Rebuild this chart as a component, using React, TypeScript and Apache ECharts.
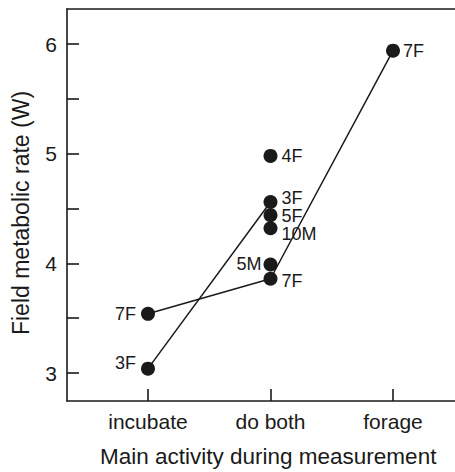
import React, { useEffect, useRef } from "react";
import * as echarts from "echarts";

const categories = ["incubate", "do both", "forage"];
const pointCategory = ["incubate", "incubate", "do both", "do both", "do both", "do both", "do both", "do both", "forage"];
const pointValues = [3.54, 3.04, 4.98, 4.56, 4.44, 4.32, 3.99, 3.86, 5.94];
const pointLabels = ["7F", "3F", "4F", "3F", "5F", "10M", "5M", "7F", "7F"];
const line7FCategories = ["incubate", "do both", "forage"];
const line7FValues = [3.54, 3.86, 5.94];
const line3FCategories = ["incubate", "do both"];
const line3FValues = [3.04, 4.56];
const yTicks = [3, 3.5, 4, 4.5, 5, 5.5, 6];
const yTickLabels = [3, 4, 5, 6];
const xTitle = "Main activity during measurement";
const yTitle = "Field metabolic rate (W)";

const FONT = "'Liberation Sans', Arial, Helvetica, sans-serif";
const INK = "#1a1a1a";

const labelSide: Record<string, { position: string; offset: number[]; distance: number }> = {
  "0": { position: "left", offset: [0, 0], distance: 5 },
  "1": { position: "left", offset: [0, -6], distance: 5 },
  "2": { position: "right", offset: [0, 0], distance: 4 },
  "3": { position: "right", offset: [0, -4], distance: 4 },
  "4": { position: "right", offset: [0, 1], distance: 4 },
  "5": { position: "right", offset: [0, 6], distance: 4 },
  "6": { position: "left", offset: [0, 0], distance: 2 },
  "7": { position: "right", offset: [0, 2], distance: 4 },
  "8": { position: "right", offset: [0, 0], distance: 3 },
};

const catX = (c: string) => categories.indexOf(c) + 1;

export default function App() {
  const ref = useRef<HTMLDivElement>(null);
  useEffect(() => {
    if (!ref.current) return;
    const chart = echarts.init(ref.current, null, { renderer: "svg" });
    const axisLineStyle = { color: INK, width: 1.6 };
    chart.setOption({
      animation: false,
      backgroundColor: "#fff",
      textStyle: { fontFamily: FONT },
      grid: { left: 67, right: 0, top: 9, bottom: 71 },
      graphic: [
        {
          type: "text",
          left: 100,
          top: 445,
          style: { text: xTitle, fontSize: 22.5, fill: INK, fontFamily: FONT },
        },
        {
          type: "text",
          x: 21,
          y: 213,
          rotation: Math.PI / 2,
          style: { text: yTitle, fontSize: 23, fill: INK, fontFamily: FONT, align: "center", verticalAlign: "middle" },
        },
      ],
      xAxis: [
        {
          type: "value",
          min: 0.339,
          max: 3.506,
          position: "bottom",
          axisLine: { show: true, lineStyle: axisLineStyle },
          axisTick: { show: true, inside: true, length: 12, lineStyle: axisLineStyle, customValues: [1, 2, 3] },
          axisLabel: {
            show: true,
            fontSize: 21,
            color: INK,
            margin: 10,
            fontFamily: FONT,
            customValues: [1, 2, 3],
            formatter: (v: number) => categories[Math.round(v) - 1] ?? "",
          },
          splitLine: { show: false },
        },
        {
          type: "value",
          min: 0.339,
          max: 3.506,
          position: "top",
          axisLine: { show: true, onZero: false, lineStyle: axisLineStyle },
          axisTick: { show: false },
          axisLabel: { show: false },
          splitLine: { show: false },
        },
      ],
      yAxis: {
        type: "value",
        min: 2.745,
        max: 6.32,
        axisLine: { show: true, lineStyle: axisLineStyle },
        axisTick: { show: true, inside: true, length: 12, lineStyle: axisLineStyle, customValues: yTicks },
        axisLabel: { show: true, fontSize: 21, color: INK, margin: 10, fontFamily: FONT, customValues: yTickLabels },
        splitLine: { show: false },
      },
      series: [
        {
          type: "line",
          data: line7FCategories.map((c, i) => [catX(c), line7FValues[i]]),
          showSymbol: false,
          lineStyle: { color: INK, width: 1.5 },
          z: 1,
        },
        {
          type: "line",
          data: line3FCategories.map((c, i) => [catX(c), line3FValues[i]]),
          showSymbol: false,
          lineStyle: { color: INK, width: 1.5 },
          z: 1,
        },
        {
          type: "scatter",
          symbolSize: 14,
          itemStyle: { color: INK, opacity: 1 },
          z: 3,
          data: pointValues.map((v, i) => {
            const s = labelSide[String(i)];
            return {
              value: [catX(pointCategory[i]), v],
              label: {
                show: true,
                formatter: pointLabels[i],
                position: s.position,
                distance: s.distance,
                offset: s.offset,
                fontSize: 18,
                color: INK,
                fontFamily: FONT,
              },
            };
          }),
        },
      ],
    });
    return () => chart.dispose();
  }, []);
  return <div ref={ref} style={{ position: "fixed", left: 0, top: 0, width: 455, height: 472 }} />;
}
